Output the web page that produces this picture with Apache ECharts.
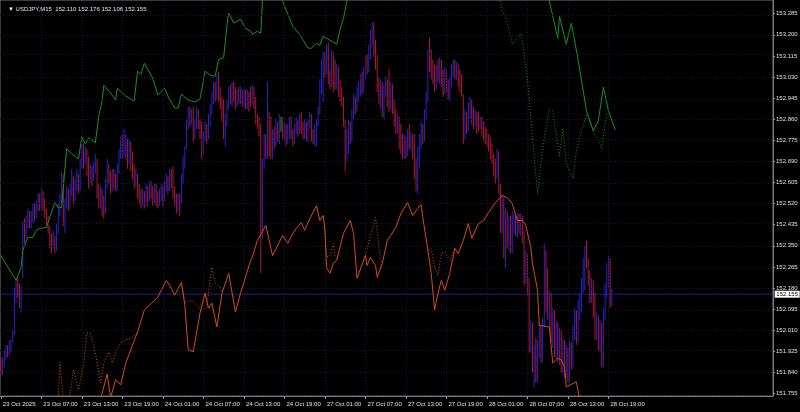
<!DOCTYPE html>
<html><head><meta charset="utf-8">
<script src="https://cdn.jsdelivr.net/npm/echarts@6/dist/echarts.min.js"></script>
<style>html,body{margin:0;padding:0;background:#000;}#c{width:800px;height:412px;}</style>
</head><body><div id="c"></div>
<script>
const timeLabels = ['23 Oct 2025','23 Oct 07:00','23 Oct 13:00','23 Oct 19:00','24 Oct 01:00','24 Oct 07:00','24 Oct 13:00','24 Oct 19:00','27 Oct 01:00','27 Oct 07:00','27 Oct 13:00','27 Oct 19:00','28 Oct 01:00','28 Oct 07:00','28 Oct 13:00','28 Oct 19:00'];
const priceTicks = [153.285,153.200,153.115,153.030,152.945,152.860,152.775,152.690,152.605,152.520,152.435,152.350,152.265,152.180,152.095,152.010,151.925,151.840,151.755];
const lastPrice = 152.155;
const titleText = '\u25BC USDJPY,M15  152.110 152.176 152.106 152.155';
// M15 bars: [open, high, low, close]
const bars = [
[151.89,151.90,151.83,151.84],[151.84,151.90,151.83,151.88],[151.87,151.93,151.86,151.91],[151.90,151.95,151.89,151.93],[151.94,151.95,151.90,151.92],
[151.92,151.97,151.91,151.95],[151.93,151.97,151.92,151.96],[151.97,152.01,151.96,151.99],[152.00,152.18,151.99,152.16],[152.13,152.22,152.12,152.20],
[152.21,152.22,152.14,152.16],[152.19,152.20,152.10,152.12],[152.09,152.19,152.08,152.17],[152.23,152.45,152.22,152.43],[152.45,152.46,152.36,152.40],
[152.39,152.47,152.38,152.44],[152.43,152.50,152.42,152.48],[152.48,152.49,152.42,152.44],[152.43,152.49,152.42,152.46],[152.45,152.52,152.44,152.50],
[152.51,152.52,152.45,152.47],[152.47,152.53,152.46,152.51],[152.50,152.56,152.49,152.55],[152.55,152.56,152.49,152.52],[152.51,152.58,152.50,152.57],
[152.56,152.57,152.49,152.53],[152.53,152.54,152.46,152.49],[152.49,152.50,152.43,152.45],[152.46,152.47,152.40,152.42],[152.42,152.43,152.34,152.37],
[152.39,152.40,152.32,152.35],[152.35,152.41,152.34,152.39],[152.38,152.39,152.32,152.34],[152.34,152.44,152.33,152.42],[152.41,152.52,152.40,152.49],
[152.48,152.56,152.47,152.54],[152.53,152.65,152.52,152.63],[152.63,152.64,152.43,152.47],[152.41,152.54,152.40,152.52],[152.51,152.59,152.50,152.57],
[152.57,152.58,152.49,152.51],[152.51,152.60,152.50,152.58],[152.56,152.66,152.55,152.62],[152.62,152.63,152.52,152.55],[152.54,152.62,152.53,152.60],
[152.58,152.66,152.57,152.62],[152.63,152.64,152.56,152.58],[152.58,152.70,152.57,152.68],[152.67,152.76,152.66,152.74],[152.75,152.76,152.66,152.70],
[152.69,152.75,152.68,152.74],[152.73,152.74,152.63,152.66],[152.70,152.71,152.58,152.62],[152.61,152.68,152.60,152.65],[152.66,152.67,152.59,152.62],
[152.62,152.69,152.61,152.66],[152.65,152.72,152.64,152.70],[152.69,152.70,152.54,152.58],[152.59,152.60,152.50,152.53],[152.51,152.59,152.50,152.57],
[152.57,152.58,152.47,152.52],[152.54,152.55,152.46,152.49],[152.49,152.62,152.48,152.60],[152.59,152.70,152.58,152.66],[152.67,152.68,152.60,152.62],
[152.64,152.65,152.56,152.59],[152.58,152.66,152.57,152.64],[152.65,152.66,152.58,152.60],[152.63,152.64,152.57,152.58],[152.58,152.68,152.57,152.66],
[152.65,152.74,152.64,152.72],[152.71,152.79,152.70,152.76],[152.79,152.80,152.70,152.72],[152.72,152.82,152.71,152.80],[152.71,152.80,152.70,152.78],
[152.77,152.78,152.66,152.72],[152.69,152.78,152.68,152.77],[152.76,152.77,152.65,152.70],[152.72,152.73,152.62,152.66],[152.67,152.68,152.58,152.61],
[152.60,152.66,152.59,152.64],[152.63,152.64,152.54,152.57],[152.59,152.60,152.52,152.55],[152.57,152.58,152.50,152.52],[152.52,152.58,152.51,152.56],
[152.56,152.57,152.50,152.52],[152.52,152.60,152.51,152.56],[152.58,152.59,152.51,152.54],[152.54,152.61,152.53,152.58],[152.60,152.61,152.54,152.56],
[152.58,152.59,152.51,152.53],[152.53,152.60,152.52,152.58],[152.59,152.60,152.51,152.54],[152.56,152.57,152.50,152.52],[152.52,152.58,152.51,152.56],
[152.54,152.60,152.53,152.57],[152.58,152.59,152.51,152.54],[152.54,152.61,152.53,152.59],[152.58,152.64,152.57,152.61],[152.62,152.63,152.56,152.59],
[152.58,152.66,152.57,152.63],[152.65,152.66,152.58,152.60],[152.66,152.67,152.54,152.56],[152.58,152.59,152.51,152.53],[152.55,152.56,152.48,152.50],
[152.50,152.56,152.49,152.54],[152.55,152.56,152.47,152.49],[152.53,152.64,152.52,152.62],[152.61,152.71,152.60,152.69],[152.67,152.75,152.66,152.74],
[152.75,152.86,152.74,152.84],[152.83,152.91,152.82,152.90],[152.90,152.91,152.83,152.86],[152.85,152.90,152.84,152.89],[152.90,152.91,152.77,152.78],
[152.79,152.86,152.78,152.84],[152.83,152.91,152.82,152.89],[152.89,152.90,152.82,152.84],[152.85,152.86,152.78,152.80],[152.84,152.85,152.70,152.73],
[152.73,152.81,152.72,152.79],[152.78,152.85,152.77,152.83],[152.83,152.84,152.76,152.79],[152.79,152.88,152.78,152.85],[152.84,152.92,152.83,152.90],
[152.89,152.97,152.88,152.95],[152.93,153.01,152.92,152.99],[153.00,153.01,152.93,152.95],[152.95,153.04,152.94,153.02],[153.04,153.05,152.93,152.96],
[152.98,152.99,152.90,152.92],[152.94,152.95,152.85,152.88],[152.93,152.94,152.78,152.80],[152.76,152.88,152.75,152.85],[152.84,152.94,152.83,152.92],
[152.91,152.99,152.90,152.97],[152.99,153.00,152.92,152.94],[152.92,153.01,152.91,153.00],[153.00,153.01,152.93,152.96],[152.98,152.99,152.90,152.92],
[152.92,152.98,152.91,152.97],[152.98,152.99,152.92,152.94],[152.93,152.99,152.92,152.97],[152.97,152.98,152.91,152.93],[152.92,152.98,152.91,152.97],
[152.97,152.98,152.90,152.93],[152.91,152.98,152.90,152.96],[152.96,152.97,152.89,152.92],[152.98,152.99,152.91,152.93],[152.93,153.00,152.92,152.98],
[152.98,152.99,152.90,152.92],[152.94,152.95,152.84,152.86],[152.87,152.88,152.82,152.84],[152.86,152.87,152.79,152.80],[152.80,152.84,152.24,152.40],
[152.40,152.70,152.38,152.68],[152.68,152.80,152.66,152.78],[152.79,152.80,152.70,152.72],[152.72,153.01,152.70,152.96],[152.88,152.89,152.71,152.74],
[152.80,152.87,152.70,152.72],[152.72,152.82,152.70,152.80],[152.81,152.83,152.74,152.76],[152.76,152.86,152.75,152.84],[152.84,152.85,152.77,152.78],
[152.78,152.88,152.76,152.86],[152.84,152.87,152.81,152.84],[152.86,152.87,152.78,152.79],[152.79,152.85,152.77,152.83],[152.83,152.84,152.75,152.77],
[152.77,152.84,152.76,152.82],[152.82,152.87,152.78,152.86],[152.86,152.87,152.78,152.80],[152.80,152.82,152.75,152.77],[152.77,152.84,152.76,152.82],
[152.82,152.87,152.80,152.85],[152.85,152.86,152.79,152.81],[152.81,152.88,152.80,152.86],[152.88,152.89,152.80,152.81],[152.84,152.85,152.78,152.79],
[152.79,152.86,152.78,152.84],[152.84,152.85,152.77,152.78],[152.78,152.86,152.77,152.85],[152.85,152.89,152.82,152.87],[152.87,152.88,152.77,152.79],
[152.80,152.82,152.76,152.78],[152.78,152.84,152.75,152.82],[152.78,152.86,152.75,152.84],[152.84,152.91,152.83,152.90],[152.90,153.02,152.88,153.00],
[152.98,153.10,152.96,153.08],[153.06,153.13,152.93,153.12],[153.12,153.13,153.03,153.05],[153.05,153.16,153.04,153.15],[153.15,153.17,153.00,153.02],
[153.04,153.06,152.98,153.00],[153.00,153.14,152.99,153.12],[153.12,153.13,152.97,152.99],[153.05,153.10,152.98,153.00],[153.00,153.08,152.98,153.06],
[153.06,153.07,152.95,152.97],[152.99,153.02,152.93,152.95],[152.96,152.99,152.91,152.93],[152.93,152.95,152.83,152.85],[152.85,152.86,152.65,152.70],
[152.70,152.82,152.69,152.80],[152.80,152.86,152.72,152.84],[152.84,152.85,152.76,152.78],[152.78,152.90,152.77,152.88],[152.88,152.96,152.86,152.94],
[152.94,152.95,152.88,152.90],[152.90,152.99,152.89,152.97],[152.97,153.01,152.93,152.99],[152.99,153.04,152.95,153.03],[153.03,153.05,152.96,152.98],
[152.98,153.07,152.97,153.05],[153.05,153.11,153.02,153.10],[153.10,153.12,153.04,153.06],[153.06,153.16,153.05,153.14],[153.14,153.22,153.10,153.20],
[153.20,153.25,153.16,153.24],[153.24,153.25,153.11,153.13],[153.15,153.18,153.06,153.08],[153.08,153.12,152.97,152.99],[152.99,153.03,152.92,152.94],
[152.94,153.02,152.90,153.00],[153.00,153.01,152.87,152.89],[152.89,153.00,152.86,152.98],[152.98,153.03,152.95,153.01],[153.01,153.02,152.91,152.93],
[153.03,153.06,152.89,152.91],[152.91,153.01,152.90,152.99],[152.99,153.00,152.88,152.90],[152.92,152.94,152.83,152.85],[152.86,152.90,152.80,152.82],
[152.82,152.88,152.80,152.86],[152.86,152.87,152.74,152.76],[152.78,152.84,152.72,152.74],[152.76,152.80,152.70,152.72],[152.72,152.80,152.70,152.78],
[152.78,152.79,152.70,152.72],[152.72,152.82,152.71,152.80],[152.80,152.84,152.74,152.76],[152.76,152.81,152.73,152.79],[152.79,152.80,152.70,152.72],
[152.76,152.80,152.62,152.64],[152.66,152.70,152.57,152.60],[152.58,152.75,152.56,152.73],[152.73,152.80,152.66,152.78],[152.78,152.85,152.74,152.83],
[152.83,152.84,152.76,152.78],[152.78,152.90,152.77,152.88],[152.88,152.97,152.86,152.95],[152.95,153.14,152.93,153.12],[153.12,153.19,153.05,153.07],
[153.10,153.14,153.02,153.04],[153.08,153.10,153.00,153.02],[153.06,153.08,152.97,152.99],[152.99,153.08,152.98,153.06],[153.06,153.10,153.01,153.03],
[153.03,153.11,153.00,153.09],[153.09,153.10,152.99,153.01],[153.03,153.06,152.95,152.97],[152.97,153.07,152.96,153.05],[153.05,153.06,152.97,152.99],
[153.00,153.02,152.94,152.96],[152.94,153.03,152.93,153.01],[153.01,153.08,152.99,153.07],[153.07,153.10,153.03,153.09],[153.09,153.10,153.02,153.04],
[153.04,153.09,153.02,153.07],[153.07,153.08,152.99,153.01],[153.03,153.06,152.97,152.99],[153.00,153.04,152.95,152.97],[152.95,152.96,152.76,152.78],
[152.80,152.90,152.78,152.88],[152.88,152.89,152.80,152.82],[152.82,152.93,152.81,152.91],[152.91,152.95,152.86,152.93],[152.93,152.94,152.84,152.86],
[152.88,152.91,152.82,152.84],[152.84,152.90,152.83,152.88],[152.88,152.89,152.80,152.82],[152.86,152.89,152.81,152.83],[152.83,152.87,152.82,152.86],
[152.86,152.87,152.79,152.81],[152.83,152.85,152.77,152.79],[152.81,152.83,152.76,152.78],[152.80,152.82,152.75,152.77],[152.78,152.80,152.73,152.75],
[152.76,152.79,152.70,152.72],[152.73,152.76,152.68,152.70],[152.71,152.72,152.63,152.65],[152.67,152.70,152.60,152.62],[152.64,152.74,152.62,152.72],
[152.72,152.73,152.56,152.58],[152.58,152.60,152.40,152.43],[152.43,152.56,152.40,152.54],[152.52,152.54,152.30,152.33],[152.30,152.50,152.26,152.48],
[152.48,152.49,152.34,152.36],[152.36,152.47,152.33,152.45],[152.45,152.47,152.32,152.34],[152.34,152.49,152.32,152.46],[152.42,152.48,152.40,152.46],
[152.46,152.47,152.39,152.41],[152.40,152.48,152.38,152.46],[152.47,152.48,152.40,152.42],[152.41,152.48,152.39,152.46],[152.46,152.47,152.36,152.38],
[152.40,152.41,152.19,152.22],[152.22,152.33,152.20,152.31],[152.31,152.32,152.15,152.17],[152.20,152.22,151.92,151.95],[151.95,152.05,151.92,152.02],
[152.02,152.04,151.84,151.86],[151.86,151.95,151.78,151.92],[151.92,151.98,151.80,151.83],[151.83,151.97,151.80,151.95],[151.95,152.04,151.90,152.02],
[152.02,152.03,151.88,151.90],[151.90,152.06,151.88,152.04],[152.04,152.36,152.02,152.30],[152.30,152.33,152.08,152.10],[152.24,152.26,152.05,152.07],
[152.05,152.17,152.00,152.15],[152.15,152.16,151.96,151.98],[151.98,152.10,151.94,152.08],[152.08,152.09,151.90,151.93],[151.93,152.05,151.90,152.03],
[152.03,152.04,151.88,151.90],[151.90,152.02,151.87,152.00],[152.00,152.01,151.84,151.86],[151.86,151.98,151.83,151.96],[151.96,151.97,151.82,151.84],
[151.84,151.95,151.82,151.93],[151.93,151.94,151.80,151.83],[151.83,151.97,151.80,151.95],[151.95,151.96,151.85,151.88],[151.88,152.03,151.86,152.01],
[152.01,152.10,151.97,152.08],[152.08,152.09,151.95,151.98],[151.98,152.13,151.96,152.11],[152.09,152.16,152.05,152.14],[152.14,152.22,152.08,152.20],
[152.20,152.30,152.16,152.28],[152.20,152.35,152.17,152.33],[152.36,152.37,152.26,152.28],[152.28,152.30,152.19,152.21],[152.22,152.25,152.12,152.14],
[152.14,152.22,152.12,152.20],[152.20,152.21,152.06,152.08],[152.10,152.16,151.97,151.99],[151.99,152.08,151.97,152.06],[152.06,152.07,151.93,151.95],
[151.95,152.05,151.92,152.03],[152.03,152.04,151.86,151.88],[151.88,152.10,151.86,152.08],[152.08,152.20,152.05,152.18],[152.18,152.28,152.14,152.26],
[152.20,152.31,152.18,152.29],[152.29,152.30,152.10,152.12],[152.110,152.176,152.106,152.155]
];
// indicator lines: [barIndex, price]
const greenSolid = [[0,152.311],[9,152.211],[12,152.263],[13,152.332],[16,152.384],[19,152.384],[21,152.412],[23,152.420],[27,152.424],[29,152.464],[32,152.524],[34,152.504],[36,152.504],[37,152.584],[39,152.741],[42,152.721],[46,152.700],[48,152.789],[50,152.761],[52,152.785],[56,152.765],[58,152.873],[60,152.933],[61,152.997],[65,152.965],[68,152.937],[69,152.985],[74,152.953],[75,152.957],[79,152.933],[81,153.053],[83,153.041],[85,153.085],[90,153.025],[93,152.957],[97,152.985],[99,152.953],[103,152.905],[105,152.905],[107,152.961],[111,152.937],[115,152.929],[118,152.941],[121,153.053],[124,153.037],[127,153.033],[129,153.101],[132,153.107],[134,153.240],[135,153.287],[138,153.247],[142,153.262],[145,153.226],[148,153.214],[149,153.202],[152,153.214],[154,153.206],[155,153.334],[156,153.42],[166,153.42],[167,153.334],[173,153.234],[177,153.202],[182,153.146],[184,153.146],[187,153.166],[189,153.158],[191,153.194],[195,153.178],[199,153.162],[201,153.222],[203,153.266],[205,153.334],[206,153.42],[324,153.42],[325,153.334],[330,153.186],[331,153.274],[335,153.162],[338,153.246],[342,153.101],[347,152.893],[351,152.813],[354,152.853],[357,152.989],[360,152.893],[364,152.817]];
const greenDotted = [[295,153.42],[296,153.334],[297,153.302],[300,153.254],[303,153.162],[308,153.206],[309,153.174],[312,153.025],[315,152.785],[318,152.560],[321,152.745],[325,152.901],[327,152.893],[331,152.712],[333,152.821],[335,152.680],[339,152.620],[341,152.733],[347,152.881],[351,152.813],[356,152.745],[359,152.881]];
const orangeSolid = [[58,151.70],[59,151.730],[63,151.834],[65,151.738],[68,151.810],[71,151.790],[74,151.878],[81,152.003],[85,152.091],[93,152.143],[98,152.211],[100,152.191],[103,152.151],[107,152.203],[109,152.111],[111,151.931],[114,151.923],[118,152.079],[121,152.159],[123,152.099],[125,152.119],[128,152.023],[131,152.159],[135,152.239],[139,152.083],[142,152.159],[148,152.291],[149,152.303],[152,152.372],[157,152.432],[160,152.340],[161,152.311],[167,152.392],[170,152.360],[173,152.400],[175,152.420],[178,152.444],[180,152.412],[182,152.444],[187,152.512],[189,152.452],[191,152.472],[192,152.412],[193,152.263],[195,152.239],[197,152.279],[199,152.291],[203,152.400],[207,152.452],[209,152.400],[211,152.219],[216,152.311],[217,152.271],[219,152.303],[222,152.271],[223,152.223],[226,152.279],[229,152.372],[231,152.392],[234,152.424],[237,152.480],[241,152.524],[244,152.472],[247,152.500],[249,152.516],[250,152.464],[253,152.332],[255,152.239],[257,152.091],[259,152.159],[261,152.211],[263,152.171],[266,152.239],[269,152.340],[271,152.319],[274,152.372],[277,152.440],[279,152.380],[283,152.440],[286,152.452],[289,152.484],[293,152.524],[297,152.552],[300,152.544],[303,152.520],[306,152.452],[309,152.452],[311,152.432],[314,152.344],[315,152.279],[318,152.171],[319,152.030],[325,152.023],[327,151.878],[330,151.898],[332,151.890],[334,151.862],[335,151.782],[341,151.802],[343,151.730],[344,151.65]];
const orangeDotted = [[33,151.70],[34,151.730],[35,151.882],[37,151.738],[41,151.750],[43,151.850],[46,151.770],[49,151.870],[51,151.999],[53,151.999],[56,151.919],[59,151.798],[61,151.878],[64,151.922],[66,151.878],[68,151.919],[71,151.959],[74,151.971],[78,151.979],[81,152.003],[82,null],
[107,152.203],[109,152.119],[113,152.131],[116,152.111],[119,152.091],[122,152.103],[125,152.263],[127,152.199],[130,152.183],[131,152.159],[132,null],
[192,152.412],[193,152.305],[195,152.311],[197,152.358],[198,152.311],[199,152.300],[200,null],
[216,152.311],[217,152.318],[222,152.465],[225,152.291],[226,152.279],[227,null],
[253,152.332],[255,152.338],[257,152.265],[259,152.231],[261,152.318],[263,152.325],[266,152.291],[269,152.340]];

const totalSlots = 458;
const barsPerLabel = 24;
const categories = [];
for (let i = 0; i < totalSlots; i++) {
  const k = i / barsPerLabel;
  categories.push(i % barsPerLabel === 0 && k < timeLabels.length ? timeLabels[k] : '');
}
const candleData = bars.map(b => [b[0], b[3], b[2], b[1]]);
const priceLineData = [[0, lastPrice], [totalSlots - 1, lastPrice]];
const gridStyle = {color: '#16163e', type: [1, 2], width: 1};
const gridMarks = [];
priceTicks.forEach(v => gridMarks.push({yAxis: v, lineStyle: gridStyle}));
for (let k = 1; k < timeLabels.length; k++) gridMarks.push({xAxis: k * barsPerLabel, lineStyle: gridStyle});

const FONT = 'Liberation Sans';
const chart = echarts.init(document.getElementById('c'), null, {renderer: 'canvas'});
chart.setOption({
  backgroundColor: '#000000',
  animation: false,
  title: {
    text: titleText, left: 3, top: 1,
    textStyle: {color: '#e6e6e6', fontSize: 6, fontWeight: 'normal', fontFamily: FONT}
  },
  grid: {left: 0, right: 27, top: 0, bottom: 16, show: true, borderColor: '#7a7a7a', borderWidth: 1, backgroundColor: '#000', outerBoundsMode: 'none'},
  xAxis: {
    type: 'category', data: categories, boundaryGap: true,
    axisLine: {show: true, lineStyle: {color: '#7a7a7a'}},
    axisTick: {show: true, alignWithLabel: true, length: 3, interval: (i, v) => v !== '', lineStyle: {color: '#9a9a9a'}},
    axisLabel: {show: true, interval: (i, v) => v !== '', align: 'left', margin: 5, padding: [0,0,0,2], color: '#e0e0e0', fontSize: 6, fontFamily: FONT},
    splitLine: {show: false}
  },
  yAxis: {
    type: 'value', position: 'right', min: 151.745, max: 153.340, scale: true,
    axisLine: {show: true, lineStyle: {color: '#7a7a7a'}},
    axisTick: {show: true, length: 2, customValues: priceTicks, lineStyle: {color: '#9a9a9a'}},
    axisLabel: {show: true, customValues: priceTicks, margin: 3, color: '#e0e0e0', fontSize: 6, fontFamily: FONT, formatter: v => v.toFixed(3), hideOverlap: false},
    splitLine: {show: false}
  },
  series: [
    {
      type: 'line', name: 'grid', data: [], z: 1, silent: true,
      markLine: {
        silent: true, symbol: 'none', animation: false, label: {show: false},
        lineStyle: gridStyle,
        data: gridMarks
      }
    },
    {
      type: 'line', name: 'price', data: priceLineData, z: 2, silent: true, symbol: 'none',
      lineStyle: {color: '#1e1e88', width: 1, type: 'solid'},
      markPoint: {
        silent: true, animation: false,
        symbol: 'rect', symbolSize: [25, 7], symbolOffset: [15, 0],
        itemStyle: {color: '#ffffff'},
        label: {show: true, position: 'inside', formatter: lastPrice.toFixed(3), color: '#000', fontSize: 6, fontFamily: FONT},
        data: [{coord: [totalSlots - 1, lastPrice]}]
      }
    },
    {
      type: 'candlestick', data: candleData, large: true, largeThreshold: 50, z: 3, silent: true, barWidth: 1,
      itemStyle: {color: '#2626c4', color0: '#ac1a3a', borderColor: '#2626c4', borderColor0: '#ac1a3a', borderColorDoji: '#1fa51f', borderWidth: 1}
    },
    {type: 'line', data: greenSolid, symbol: 'none', z: 4, silent: true, lineStyle: {color: '#1d8f22', width: 1}},
    {type: 'line', data: greenDotted, symbol: 'none', z: 4, silent: true, lineStyle: {color: '#1d8f22', width: 1, type: [1, 2]}},
    {type: 'line', data: orangeSolid, symbol: 'none', z: 5, silent: true, lineStyle: {color: '#d24e1a', width: 1}},
    {type: 'line', data: orangeDotted, symbol: 'none', z: 5, silent: true, connectNulls: false, lineStyle: {color: '#d24e1a', width: 1, type: [1, 2]}}
  ]
});
</script>
</body></html>
